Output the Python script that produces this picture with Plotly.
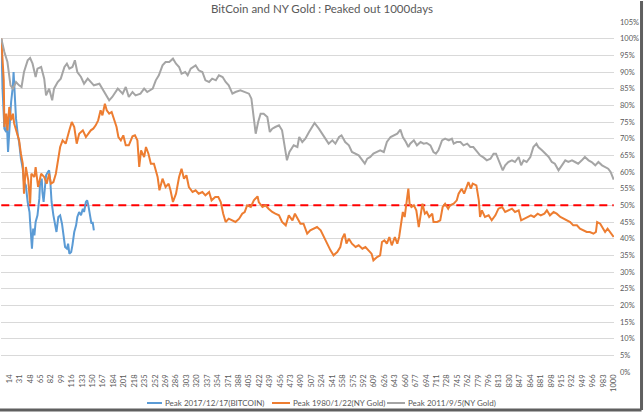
import plotly.graph_objects as go

# ---------------- data (day number, % of peak) ----------------
btc_days = [1, 3, 6, 9, 10, 12, 14, 17, 20, 21, 23, 25, 28, 30, 33, 36, 38, 41, 44, 47, 48, 51, 53, 55,
            57, 60, 63, 64, 67, 68, 70, 72, 74, 77, 79, 81, 83, 86, 88, 91, 94, 97, 100, 103, 105, 108,
            110, 112, 115, 117, 120, 123, 125, 128, 131, 134, 136, 139, 141, 143, 146, 148, 150, 152]
btc_vals = [100, 85, 73, 72, 75, 66, 72, 81, 86, 90, 83, 76, 71, 69, 64, 61, 57, 56, 51, 48, 45, 37, 43, 41,
            45, 47, 52, 56, 58, 54, 51, 56, 59, 60, 60.5, 57, 51, 47, 45, 42, 46.5, 47, 44.5, 41, 37.5, 37,
            38.5, 35.5, 36, 38, 42, 44, 46.5, 48, 47, 49, 48, 51, 51.5, 50, 47, 44.5, 45, 42.5]

g1980_days = [1, 5, 6, 9, 11, 14, 17, 20, 22, 25, 28, 30, 33, 36, 38, 41, 45, 48, 50, 55, 57, 61, 66, 71,
              75, 79, 82, 86, 90, 94, 97, 101, 106, 112, 116, 120, 124, 128, 134, 139, 143, 147, 151, 155,
              159, 163, 166, 170, 173, 177, 181, 185, 189, 192, 196, 200, 204, 209, 215, 219, 223, 226, 229,
              234, 237, 241, 245, 250, 256, 259, 264, 269, 274, 277, 281, 286, 291, 295, 299, 303, 307, 313,
              318, 323, 329, 334, 340, 344, 350, 355, 359, 363, 367, 372, 378, 383, 389, 394, 398, 402, 408,
              413, 419, 421, 427, 432, 437, 443, 448, 454, 459, 465, 470, 476, 480, 485, 489, 494, 500, 505,
              511, 516, 522, 527, 533, 538, 543, 549, 554, 557, 561, 564, 568, 573, 579, 584, 590, 595, 600,
              605, 608, 614, 619, 622, 626, 630, 634, 638, 643, 647, 650, 654, 656, 659, 661, 665, 667, 670,
              674, 678, 682, 686, 688, 692, 695, 699, 704, 706, 712, 717, 721, 725, 730, 733, 739, 744, 747,
              752, 756, 761, 763, 767, 770, 776, 780, 782, 785, 790, 796, 801, 807, 812, 818, 823, 828, 834,
              839, 845, 849, 854, 859, 865, 870, 876, 881, 887, 891, 896, 902, 907, 913, 918, 924, 929, 934,
              940, 945, 951, 956, 961, 967, 971, 973, 978, 982, 986, 990, 994, 997, 1000]
g1980_vals = [100, 87.5, 73.5, 77.5, 72.5, 79.5, 75.5, 77.5, 74.5, 72.5, 70.5, 69.5, 65.5, 62.5, 53.5, 61.5,
              57.5, 50.5, 59.5, 58.5, 61.5, 55.5, 59.5, 58.5, 56.5, 59.5, 56.5, 57, 59.5, 64.5, 67.5, 69.5,
              68.5, 72.5, 75, 73.5, 68.5, 71.5, 72.5, 70.5, 71.5, 72.5, 73, 74, 75.5, 78.5, 77, 80.5, 78.5,
              77.5, 78, 76, 73.5, 70.5, 69.5, 71, 68, 68, 70.7, 71, 69.5, 61.5, 66.5, 64.5, 67.5, 65.5, 62.5,
              62.5, 58.5, 54.5, 58, 55.5, 56.5, 54.5, 51, 53.5, 58.5, 61, 58, 59, 55.5, 54, 54.5, 53.5, 54,
              53, 54, 51.5, 52.5, 52.5, 51, 47.5, 45, 46, 45.5, 45, 46, 47.5, 48, 50, 49.5, 51.5, 52.7, 51,
              49.5, 50, 49, 48, 47.5, 47, 45, 44, 47, 45.5, 47.5, 46, 44.5, 44.5, 41.5, 42.5, 43, 43.5, 42.5,
              40.5, 38.5, 36.5, 35, 36, 37.5, 40, 41.5, 38.5, 40, 38.5, 37.5, 38, 37, 37.5, 36.5, 35.5, 33.5,
              34.5, 35, 39, 39.5, 38.5, 40.5, 38, 40.5, 38.5, 40.5, 45, 48, 46.5, 49.5, 55, 50.5, 49.5, 50,
              48.5, 43.5, 48.5, 50.5, 47.5, 48, 46.5, 47.5, 45, 45, 45.5, 49.5, 50.5, 49, 50, 50.5, 51.5,
              53.5, 55, 53.5, 56, 57, 55, 56.5, 56, 51.5, 46.5, 48.5, 46.5, 47, 45.5, 47, 49, 49.5, 48, 48.5,
              49, 48, 48.5, 45.5, 46, 46.5, 47, 46.5, 47.5, 47, 47.5, 48.5, 47, 48, 47.5, 46.5, 46, 45.5, 45,
              44, 44, 43, 42.5, 42, 42, 41.5, 42, 45, 44.5, 43, 42, 43, 42, 41.5, 40.5]

g2011_days = [1, 6, 11, 16, 20, 25, 30, 34, 38, 44, 48, 52, 57, 60, 66, 71, 74, 79, 84, 87, 93, 98, 104,
              108, 112, 117, 121, 125, 131, 136, 142, 147, 152, 161, 169, 177, 182, 191, 199, 204, 209,
              215, 220, 228, 234, 239, 248, 253, 258, 264, 269, 275, 281, 286, 291, 295, 301, 305, 310,
              318, 323, 329, 334, 340, 345, 351, 356, 362, 367, 372, 378, 383, 391, 400, 405, 409, 413,
              416, 420, 424, 429, 435, 439, 443, 448, 454, 459, 462, 467, 471, 478, 484, 487, 492, 497,
              503, 508, 512, 519, 524, 530, 535, 541, 546, 552, 556, 562, 568, 573, 579, 584, 588, 594,
              598, 603, 608, 614, 619, 625, 630, 636, 641, 647, 652, 656, 661, 665, 668, 674, 679, 685,
              690, 695, 701, 706, 710, 714, 720, 725, 731, 736, 739, 744, 750, 755, 761, 766, 771, 777,
              782, 788, 793, 799, 804, 808, 814, 819, 823, 828, 834, 839, 845, 849, 853, 858, 864, 869,
              874, 877, 883, 888, 894, 899, 904, 910, 915, 921, 926, 932, 937, 942, 948, 953, 959, 964,
              970, 975, 981, 986, 991, 995, 1000]
g2011_vals = [100, 96, 93, 86, 85, 87, 86, 85.5, 90, 93.5, 94.2, 92.5, 88.5, 91, 91.5, 88, 83, 85, 81.5,
              85, 87, 88, 91.5, 92.5, 91, 91.5, 93.5, 90, 88.5, 86.5, 88, 87, 86, 86.5, 84, 81.5, 82.5,
              85, 83.5, 85.5, 82.5, 84, 83, 83.5, 85, 84, 85, 87.5, 89, 92, 93, 93, 94, 92.5, 91.5, 89.5,
              90, 89, 91, 92, 90.5, 90, 87.5, 87, 88, 87.5, 89, 88.5, 87, 86, 83.5, 84, 84.5, 84, 83.5, 82,
              76.5, 71.5, 75, 77.5, 77.5, 76.5, 72, 73, 73.5, 74, 72.5, 69.5, 63.5, 66, 68, 67.5, 70.5, 69,
              70, 72, 73.5, 74.7, 73, 71.5, 70, 68.5, 69.5, 68.5, 70.5, 71, 69, 68, 66, 65.5, 65, 64, 62.5,
              64, 64.5, 65.5, 66, 66.5, 66, 69, 70.5, 71, 71.5, 72.7, 70.5, 69, 67.5, 68.5, 69.5, 68, 69,
              68.5, 68.7, 68, 66, 65.5, 66.5, 69.5, 70, 69.5, 70, 68.5, 69, 69, 68, 68.5, 67.5, 67.5, 66,
              65, 64.3, 63.5, 64, 65.5, 65.5, 63, 60.5, 62, 63, 63.5, 63, 64.5, 62, 63.5, 63, 64.5, 67.5,
              68.5, 67.5, 66.5, 65.5, 64.5, 63, 62.5, 60.5, 62, 63.5, 63, 63.5, 63, 62.5, 63.5, 64.5, 63.5,
              63, 62, 63, 62, 61.5, 61, 60, 57.7]

threshold_days = [1, 1000]
threshold_vals = [50, 50]

x_tick_labels = [14, 31, 48, 65, 82, 99, 116, 133, 150, 167, 184, 201, 218, 235, 252, 269, 286, 303,
                 320, 337, 354, 371, 388, 405, 422, 439, 456, 473, 490, 507, 524, 541, 558, 575, 592,
                 609, 626, 643, 660, 677, 694, 711, 728, 745, 762, 779, 796, 813, 830, 847, 864, 881,
                 898, 915, 932, 949, 966, 983, 1000]
y_tick_values = [0, 5, 10, 15, 20, 25, 30, 35, 40, 45, 50, 55, 60, 65, 70, 75, 80, 85, 90, 95, 100, 105]

series_names = ["Peak 2017/12/17(BITCOIN)", "Peak 1980/1/22(NY Gold)", "Peak 2011/9/5(NY Gold)"]
series_colors = ["#5B9BD5", "#ED7D31", "#A5A5A5"]
title_text = "BitCoin and NY Gold : Peaked out 1000days"

# ---------------- figure ----------------
FONT = "Lato, 'Liberation Sans', sans-serif"
TXT = "#595959"

fig = go.Figure()
fig.add_trace(go.Scatter(x=threshold_days, y=threshold_vals, mode="lines", showlegend=False,
                         line=dict(color="#FF0000", width=2, dash="8px,5px"), hoverinfo="skip"))
for d, v, nm, col in [(btc_days, btc_vals, series_names[0], series_colors[0]),
                      (g1980_days, g1980_vals, series_names[1], series_colors[1]),
                      (g2011_days, g2011_vals, series_names[2], series_colors[2])]:
    fig.add_trace(go.Scatter(x=d, y=v, mode="lines", name=nm, showlegend=False,
                             line=dict(color=col, width=2)))

fig.update_layout(
    width=644, height=413,
    margin=dict(l=1, r=30, t=22, b=41, pad=0, autoexpand=False),
    paper_bgcolor="white", plot_bgcolor="white",
    font=dict(family=FONT, size=8, color=TXT),
    title=dict(text=title_text, x=0.5, xanchor="center", y=0.988, yanchor="top",
               font=dict(family=FONT, size=11.5, color=TXT)),
    showlegend=False,
    xaxis=dict(range=[0.5, 1000.5], tickmode="array", tickvals=x_tick_labels,
               ticktext=[str(v) for v in x_tick_labels], tickangle=-90, automargin=False,
               tickfont=dict(family=FONT, size=7.5, color=TXT),
               showgrid=False, zeroline=False, showline=False, ticks="", fixedrange=True),
    yaxis=dict(range=[0, 105], side="right", tickmode="array", tickvals=y_tick_values,
               ticktext=[f"{v}%" for v in y_tick_values], automargin=False,
               tickfont=dict(family=FONT, size=7.5, color=TXT),
               showgrid=True, gridcolor="#D9D9D9", gridwidth=1, zeroline=False,
               showline=False, ticks="", ticklabelstandoff=5, fixedrange=True),
)

# manual legend (line sample + label), positioned in paper coordinates
leg_y = -0.0886
leg_line_x = [(0.2382, 0.2626), (0.4421, 0.4715), (0.6297, 0.6591)]
for (x0, x1), nm, col in zip(leg_line_x, series_names, series_colors):
    fig.add_shape(type="line", xref="paper", yref="paper", x0=x0, x1=x1, y0=leg_y, y1=leg_y,
                  line=dict(color=col, width=2))
    fig.add_annotation(xref="paper", yref="paper", x=x1 + 0.002, y=leg_y, text=nm, showarrow=False,
                       xanchor="left", yanchor="middle", font=dict(family=FONT, size=8, color=TXT))

# chart frame with shadow (right and bottom)
fig.add_shape(type="line", xref="paper", yref="paper", x0=1.0449, x1=1.0449, y0=-0.1086, y1=1.06,
              line=dict(color="#5F5F5F", width=3))
fig.add_shape(type="line", xref="paper", yref="paper", x0=-0.01, x1=1.0449, y0=-0.1086, y1=-0.1086,
              line=dict(color="#5F5F5F", width=3))

fig.write_html("out.html", config={"displayModeBar": False},
               post_script="document.body.style.margin='0px';document.body.style.overflow='hidden';")
